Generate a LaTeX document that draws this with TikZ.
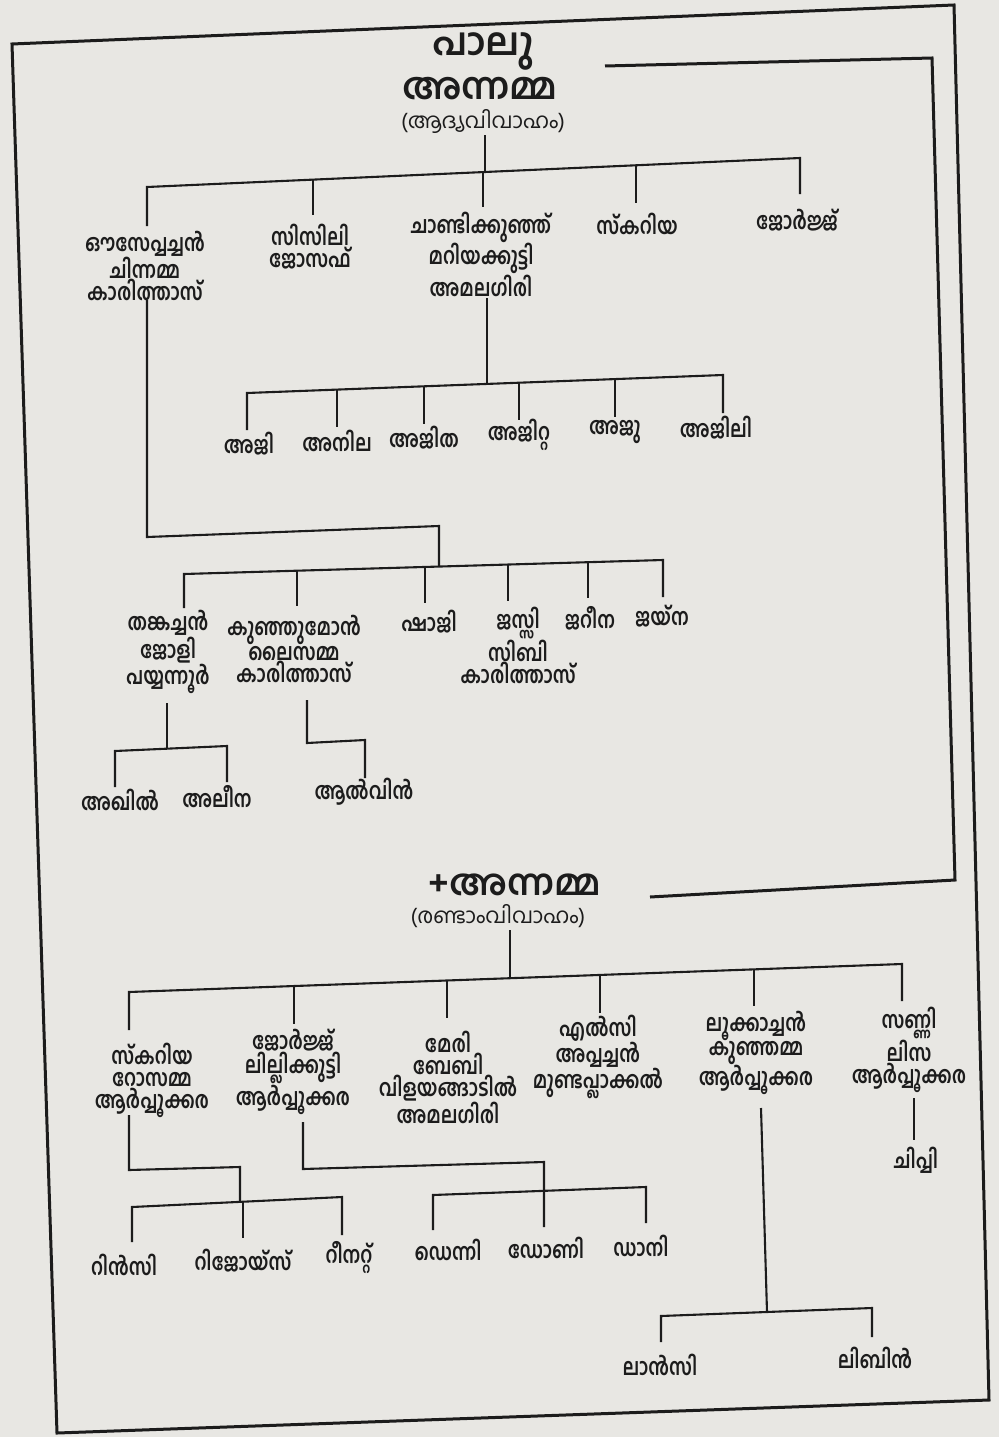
\documentclass[tikz,border=0pt]{standalone}
\usepackage{fontspec}
\newfontfamily\mal[Script=Malayalam,FakeStretch=0.79]{Hind Kochi}
\newfontfamily\malh[Script=Malayalam]{Hind Kochi}
\definecolor{paper}{HTML}{E8E7E3}
\definecolor{ink}{HTML}{1C1C1C}
\begin{document}
\begin{tikzpicture}[x=1pt,y=-1pt,
  nm/.style={font=\mal\bfseries\fontsize{23.5}{22}\selectfont,align=center,inner sep=0pt,text=ink},
  hd/.style={font=\malh\bfseries\fontsize{37}{37}\selectfont,inner sep=0pt,text=ink},
  par/.style={font=\malh\fontsize{21.5}{22}\selectfont,inner sep=0pt,text=ink},
  ln/.style={draw=ink,line width=2.1pt,line join=miter},
  frm/.style={draw=ink,line width=3pt,line join=miter}]
\fill[paper] (0,0) rectangle (999,1437);
\useasboundingbox (0,0) rectangle (999,1437);
% frame and bracket
\coordinate (f1) at (12,44); \coordinate (f2) at (954,5);
\coordinate (f3) at (989,1400); \coordinate (f4) at (57,1433);
\draw[frm] (f1) -- (f2) -- (f3) -- (f4) -- cycle;
\coordinate (k1) at (605,66); \coordinate (k2) at (932,58);
\coordinate (k3) at (955,880); \coordinate (k4) at (650,897);
\draw[frm] (k1) -- (k2) -- (k3) -- (k4);
% first marriage
\node[hd,font=\malh\bfseries\fontsize{38}{38}\selectfont] (palu) at (483,51) {പാലു};
\node[hd] (anna) at (480,89) {അന്നമ്മ};
\node[par] (adya) at (483,121) {(ആദ്യവിവാഹം)};
\node[nm] (oo) at (145,266) {ഔസേപ്പച്ചൻ\\ചിന്നമ്മ\\കാരിത്താസ്};
\node[nm] (ci) at (310,247) {സിസിലി\\ജോസഫ്};
\node[nm] (ch) at (481,254) {ചാണ്ടിക്കുഞ്ഞ്\\മറിയക്കുട്ടി\\അമലഗിരി};
\node[nm] (sk) at (637,224) {സ്കറിയ};
\node[nm] (ge) at (797,220) {ജോർജ്ജ്};
\coordinate (a0) at (485,135); \coordinate (aj) at (485,172);
\coordinate (a1) at (147,187); \coordinate (a1b) at (147,226);
\coordinate (a2) at (313,180); \coordinate (a2b) at (313,215);
\coordinate (a3) at (483,172); \coordinate (a3b) at (483,207);
\coordinate (a4) at (636,165); \coordinate (a4b) at (636,203);
\coordinate (a5) at (800,158); \coordinate (a5b) at (800,194);
\draw[ln] (a0) -- (aj);
\draw[ln] (a1b) -- (a1) -- (a5) -- (a5b);
\draw[ln] (a2) -- (a2b); \draw[ln] (a3) -- (a3b); \draw[ln] (a4) -- (a4b);
% chandikunju children
\node[nm] (c1) at (249,444) {അജി};
\node[nm] (c2) at (337,441) {അനില};
\node[nm] (c3) at (424,438) {അജിത};
\node[nm] (c4) at (519,435) {അജിറ്റ};
\node[nm] (c5) at (615,432) {അജു};
\node[nm] (c6) at (716,428) {അജിലി};
\coordinate (ct) at (487,298); \coordinate (cj) at (487,384);
\coordinate (cb1) at (247,393); \coordinate (cd1) at (247,430);
\coordinate (cb2) at (337,389.6); \coordinate (cd2) at (337,427);
\coordinate (cb3) at (424,386.3); \coordinate (cd3) at (424,424);
\coordinate (cb4) at (519,382.7); \coordinate (cd4) at (519,420);
\coordinate (cb5) at (615,379.1); \coordinate (cd5) at (615,417);
\coordinate (cb6) at (723,375); \coordinate (cd6) at (723,413);
\draw[ln] (ct) -- (cj);
\draw[ln] (cd1) -- (cb1) -- (cb6) -- (cd6);
\foreach \i in {2,...,5} \draw[ln] (cb\i) -- (cd\i);
% ouseppachan children
\node[nm] (o1) at (168,652) {തങ്കച്ചൻ\\ജോളി\\പയ്യന്നൂർ};
\node[nm] (o2) at (294,649) {കുഞ്ഞുമോൻ\\ലൈസമ്മ\\കാരിത്താസ്};
\node[nm] (o3) at (429,622) {ഷാജി};
\node[nm] (o4) at (518,645) {ജസ്സി\\സിബി\\കാരിത്താസ്};
\node[nm] (o5) at (590,618) {ജറീന};
\node[nm] (o6) at (662,616) {ജയ്ന};
\coordinate (ot) at (147,300); \coordinate (oc1) at (147,537);
\coordinate (oc2) at (439,526); \coordinate (oj) at (439,566.5);
\coordinate (ob1) at (184,574); \coordinate (od1) at (184,608);
\coordinate (ob2) at (297,570.7); \coordinate (od2) at (297,606);
\coordinate (ob3) at (425,567); \coordinate (od3) at (425,603);
\coordinate (ob4) at (508,564.5); \coordinate (od4) at (508,601);
\coordinate (ob5) at (588,562.2); \coordinate (od5) at (588,598);
\coordinate (ob6) at (663,560); \coordinate (od6) at (663,597);
\draw[ln] (ot) -- (oc1) -- (oc2) -- (oj);
\draw[ln] (od1) -- (ob1) -- (ob6) -- (od6);
\foreach \i in {2,...,5} \draw[ln] (ob\i) -- (od\i);
% thankachan, kunjumon children
\node[nm] (t1) at (120,800) {അഖിൽ};
\node[nm] (t2) at (217,797) {അലീന};
\node[nm] (k1n) at (364,792) {ആൽവിൻ};
\coordinate (tt) at (167,703); \coordinate (tj) at (167,749);
\coordinate (tb1) at (115,751); \coordinate (td1) at (115,787);
\coordinate (tb2) at (227,746); \coordinate (td2) at (227,782);
\draw[ln] (tt) -- (tj);
\draw[ln] (td1) -- (tb1) -- (tb2) -- (td2);
\coordinate (kt) at (307,700); \coordinate (kc1) at (307,743);
\coordinate (kc2) at (365,740); \coordinate (kd) at (365,778);
\draw[ln] (kt) -- (kc1) -- (kc2) -- (kd);
% second marriage
\node[hd,font=\malh\bfseries\fontsize{36}{36}\selectfont] (anna2) at (515,885) {+അന്നമ്മ};
\node[par] (rand) at (498,916) {(രണ്ടാംവിവാഹം)};
\node[nm] (s1) at (152,1080) {സ്കറിയ\\റോസമ്മ\\ആർപ്പൂക്കര};
\node[nm] (s2) at (293,1072) {ജോർജ്ജ്\\ലില്ലിക്കുട്ടി\\ആർപ്പൂക്കര};
\node[nm] (s3) at (448,1077) {മേരി\\ബേബി\\വിളയങ്ങാടിൽ\\അമലഗിരി};
\node[nm] (s4) at (598,1057) {എൽസി\\അപ്പച്ചൻ\\മുണ്ടപ്ലാക്കൽ};
\node[nm] (s5) at (756,1053) {ലൂക്കാച്ചൻ\\കുഞ്ഞമ്മ\\ആർപ്പൂക്കര};
\node[nm] (s6) at (909,1050) {സണ്ണി\\ലിസ\\ആർപ്പൂക്കര};
\coordinate (st) at (510,930); \coordinate (sj) at (510,978.2);
\coordinate (sb1) at (129,992); \coordinate (sd1) at (129,1030);
\coordinate (sb2) at (294,986); \coordinate (sd2) at (294,1024);
\coordinate (sb3) at (447,980.5); \coordinate (sd3) at (447,1018);
\coordinate (sb4) at (600,975); \coordinate (sd4) at (600,1013);
\coordinate (sb5) at (754,969.4); \coordinate (sd5) at (754,1006);
\coordinate (sb6) at (902,964); \coordinate (sd6) at (902,1001);
\draw[ln] (st) -- (sj);
\draw[ln] (sd1) -- (sb1) -- (sb6) -- (sd6);
\foreach \i in {2,...,5} \draw[ln] (sb\i) -- (sd\i);
% skariah children
\node[nm] (r1) at (124,1265) {റിൻസി};
\node[nm] (r2) at (243,1261) {റിജോയ്സ്};
\node[nm] (r3) at (349,1258) {റീനറ്റ്};
\coordinate (rt) at (129,1115); \coordinate (rc1) at (129,1170);
\coordinate (rc2) at (240,1167); \coordinate (rj) at (240,1201.9);
\coordinate (rb1) at (132,1207); \coordinate (rd1) at (132,1242);
\coordinate (rb2) at (243,1201.7); \coordinate (rd2) at (243,1238);
\coordinate (rb3) at (342,1197); \coordinate (rd3) at (342,1235);
\draw[ln] (rt) -- (rc1) -- (rc2) -- (rj);
\draw[ln] (rd1) -- (rb1) -- (rb3) -- (rd3);
\draw[ln] (rb2) -- (rd2);
% george children
\node[nm] (g1) at (448,1250) {ഡെന്നി};
\node[nm] (g2) at (546,1248) {ഡോണി};
\node[nm] (g3) at (641,1246) {ഡാനി};
\coordinate (gt) at (303,1122); \coordinate (gc1) at (303,1169);
\coordinate (gc2) at (544,1162); \coordinate (gj) at (544,1190.8);
\coordinate (gb1) at (433,1195); \coordinate (gd1) at (433,1230);
\coordinate (gb3) at (646,1187); \coordinate (gd3) at (646,1223);
\coordinate (gd2) at (544,1227);
\draw[ln] (gt) -- (gc1) -- (gc2) -- (gd2);
\draw[ln] (gd1) -- (gb1) -- (gb3) -- (gd3);
% lukachan children
\node[nm] (l1) at (660,1365) {ലാൻസി};
\node[nm] (l2) at (875,1358) {ലിബിൻ};
\coordinate (lt) at (761,1108); \coordinate (lj) at (767,1312);
\coordinate (lb1) at (661,1316); \coordinate (ld1) at (661,1342);
\coordinate (lb2) at (872,1308); \coordinate (ld2) at (872,1337);
\draw[ln] (lt) -- (lj);
\draw[ln] (ld1) -- (lb1) -- (lb2) -- (ld2);
% sunny child
\node[nm] (ch1) at (916,1160) {ചിപ്പി};
\coordinate (ut) at (914,1098); \coordinate (ud) at (914,1140);
\draw[ln] (ut) -- (ud);
\end{tikzpicture}
\end{document}
